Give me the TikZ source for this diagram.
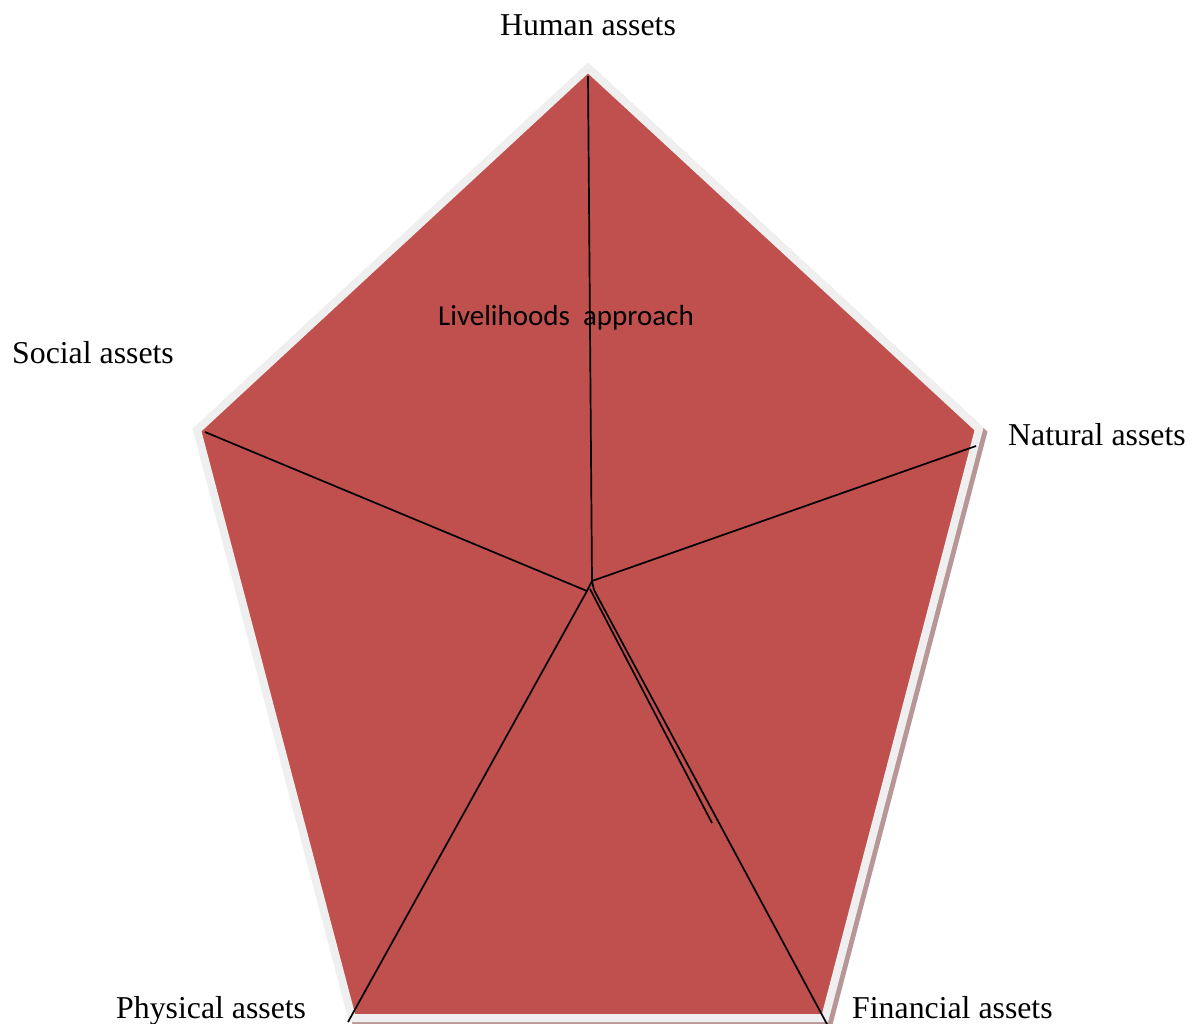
\documentclass[tikz,border=0pt]{standalone}
\usepackage{fontspec}
\setmainfont{Liberation Serif}
\newfontfamily\calib{Carlito}
\definecolor{pentred}{HTML}{C0504D}
\definecolor{pentgray}{HTML}{F0EFEF}
\definecolor{pentshadow}{HTML}{B99696}
\begin{document}
\begin{tikzpicture}[x=1pt,y=-1pt,
  lab/.style={font=\fontsize{31.8}{36}\selectfont,inner sep=0pt,anchor=base},
  spoke/.style={draw=black,line width=1.7pt}]
\useasboundingbox (0,0) rectangle (1194,1024);
% vertices (centreline of border)
\coordinate (T) at (588,68);
\coordinate (R) at (979,429);
\coordinate (BR) at (825,1018);
\coordinate (BL) at (352,1018);
\coordinate (L) at (197,430);
% shadow
\fill[pentshadow,line join=miter] ([shift={(4,4)}]T) -- ([shift={(4,4)}]R) -- ([shift={(4,4)}]BR) -- ([shift={(4,4)}]BL) -- ([shift={(4,4)}]L) -- cycle;
\draw[pentshadow,line width=8pt,line join=miter] ([shift={(4,4)}]T) -- ([shift={(4,4)}]R) -- ([shift={(4,4)}]BR) -- ([shift={(4,4)}]BL) -- ([shift={(4,4)}]L) -- cycle;
% pentagon
\draw[pentgray,fill=pentred,line width=8pt,line join=miter] (T) -- (R) -- (BR) -- (BL) -- (L) -- cycle;
% spoke end points
\coordinate (ct) at (592,581);
\coordinate (cl) at (587,591);
\coordinate (cr) at (594,590);
\coordinate (st) at (588,76);
\coordinate (sr) at (976,446);
\coordinate (sl) at (205,432);
\coordinate (sbl) at (348,1022);
\coordinate (sbr) at (828,1026);
\coordinate (smid) at (712,823);
\draw[spoke] (st) -- (ct);
\draw[spoke] (ct) -- (sr);
\draw[spoke] (sl) -- (cl);
\draw[spoke] (cl) -- (ct) -- (cr);
\draw[spoke] (cl) -- (sbl);
\draw[spoke] (590,589) -- (smid);
\draw[spoke] (cr) -- (sbr);
% labels
\node[lab] (hum) at (588,36) {Human assets};
\node[lab,anchor=base west] (soc) at (12,363) {Social assets};
\node[lab,anchor=base west] (nat) at (1008,445) {Natural assets};
\node[lab,anchor=base west] (phy) at (116,1018) {Physical assets};
\node[lab,anchor=base west] (fin) at (852,1018) {Financial assets};
\node[font=\calib\fontsize{29}{32}\selectfont,inner sep=0pt,anchor=base west] (liv) at (438,326) {Livelihoods\ \ approach};
\end{tikzpicture}
\end{document}
